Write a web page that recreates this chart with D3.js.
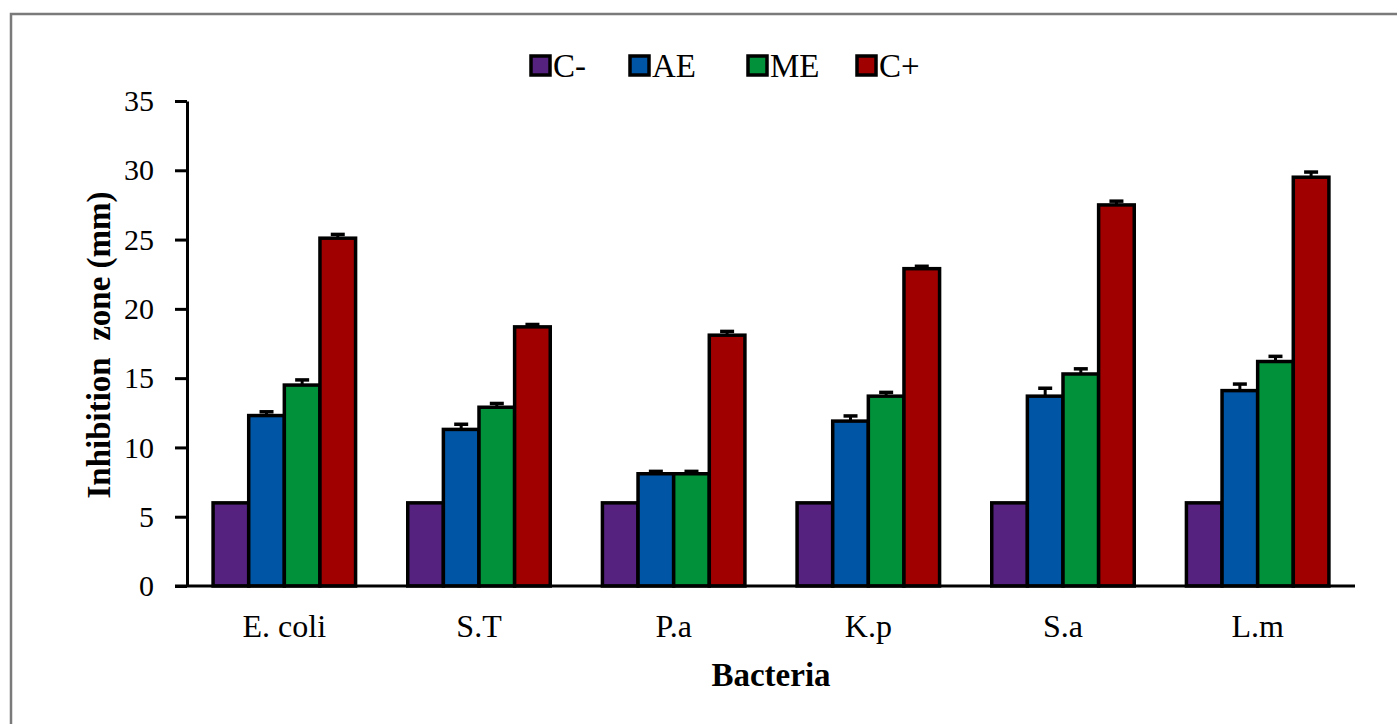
<!DOCTYPE html>
<html>
<head>
<meta charset="utf-8">
<script src="https://cdn.jsdelivr.net/npm/d3@7"></script>
<style>
  body { margin: 0; background: #fff; }
  text { font-family: "Liberation Serif", "Times New Roman", serif; fill: #000; }
</style>
</head>
<body>
<div id="chart"></div>
<script>
const categories = ['E. coli', 'S.T', 'P.a', 'K.p', 'S.a', 'L.m'];
const seriesNames = ['C-', 'AE', 'ME', 'C+'];
const seriesColors = ['#562280', '#0055A5', '#00913A', '#A00000'];
// mean inhibition zone per series, one value per category
const valuesCm = [6, 6, 6, 6, 6, 6];
const valuesAE = [12.3, 11.3, 8.1, 11.9, 13.7, 14.1];
const valuesME = [14.5, 12.9, 8.1, 13.7, 15.3, 16.2];
const valuesCp = [25.1, 18.7, 18.1, 22.9, 27.5, 29.5];
// error (sd)
const errCm = [0, 0, 0, 0, 0, 0];
const errAE = [0.2, 0.3, 0.1, 0.3, 0.5, 0.4];
const errME = [0.3, 0.2, 0.1, 0.2, 0.3, 0.3];
const errCp = [0.2, 0.1, 0.2, 0.1, 0.2, 0.3];
const yTicks = [0, 5, 10, 15, 20, 25, 30, 35];

const allValues = [valuesCm, valuesAE, valuesME, valuesCp];
const allErr = [errCm, errAE, errME, errCp];

const width = 1397, height = 724;
const margin = { top: 101, right: 42, bottom: 138, left: 187 };

const svg = d3.select('#chart').append('svg')
    .attr('width', width)
    .attr('height', height);

// outer frame (cut off at right / bottom like the source)
svg.append('rect')
    .attr('x', 11).attr('y', 14)
    .attr('width', width + 20).attr('height', height + 20)
    .attr('fill', 'none')
    .attr('stroke', '#7a7a7a')
    .attr('stroke-width', 2.5);

const x0 = d3.scaleBand()
    .domain(categories)
    .range([margin.left, width - margin.right]);

const groupW = x0.bandwidth() * 0.732;
const x1 = d3.scaleBand()
    .domain(seriesNames)
    .range([0, groupW]);

const y = d3.scaleLinear()
    .domain([0, 35])
    .range([height - margin.bottom, margin.top]);

const data = [];
categories.forEach((c, i) => {
    seriesNames.forEach((s, j) => {
        data.push({ cat: c, series: s, value: allValues[j][i], err: allErr[j][i], colour: seriesColors[j] });
    });
});

const groupOffset = (x0.bandwidth() - groupW) / 2;

// error bars (upper only), drawn under the bar outline
const errG = svg.selectAll('g.err')
    .data(data.filter(d => d.err > 0))
    .enter()
    .append('g')
    .attr('class', 'err');

errG.append('line')
    .attr('x1', d => x0(d.cat) + groupOffset + x1(d.series) + x1.bandwidth() / 2)
    .attr('x2', d => x0(d.cat) + groupOffset + x1(d.series) + x1.bandwidth() / 2)
    .attr('y1', d => y(d.value))
    .attr('y2', d => y(d.value + d.err) - 1)
    .style('stroke', '#000')
    .style('stroke-width', 3);

errG.append('line')
    .attr('x1', d => x0(d.cat) + groupOffset + x1(d.series) + x1.bandwidth() / 2 - 7)
    .attr('x2', d => x0(d.cat) + groupOffset + x1(d.series) + x1.bandwidth() / 2 + 7)
    .attr('y1', d => y(d.value + d.err) - 1)
    .attr('y2', d => y(d.value + d.err) - 1)
    .style('stroke', '#000')
    .style('stroke-width', 3.5);

svg.selectAll('rect.bar')
    .data(data)
    .enter()
    .append('rect')
    .attr('class', 'bar')
    .attr('x', d => x0(d.cat) + groupOffset + x1(d.series))
    .attr('y', d => y(d.value))
    .attr('width', x1.bandwidth())
    .attr('height', d => y(0) - y(d.value))
    .style('fill', d => d.colour)
    .style('stroke', '#000')
    .style('stroke-width', 3.5);

// y axis
const yAxis = d3.axisLeft(y)
    .tickValues(yTicks)
    .tickSize(12)
    .tickPadding(21)
    .tickSizeOuter(0);

const gy = svg.append('g')
    .attr('transform', `translate(${margin.left},0)`)
    .call(yAxis);
gy.select('.domain').style('stroke', '#000').style('stroke-width', 3);
gy.selectAll('.tick line').style('stroke', '#000').style('stroke-width', 3);
gy.selectAll('.tick text')
    .style('font-family', '"Liberation Serif", serif')
    .style('font-size', '30px');

// x axis
const xAxis = d3.axisBottom(x0)
    .tickSize(0)
    .tickPadding(28)
    .tickSizeOuter(0);

const gx = svg.append('g')
    .attr('transform', `translate(0,${y(0)})`)
    .call(xAxis);
gx.select('.domain').style('stroke', '#000').style('stroke-width', 3)
    .attr('d', `M${margin.left - 12},0H${width - margin.right}`);
gx.selectAll('.tick text')
    .style('font-family', '"Liberation Serif", serif')
    .style('font-size', '32px');

// axis titles
svg.append('text')
    .attr('x', (margin.left + width - margin.right) / 2)
    .attr('y', 686)
    .attr('text-anchor', 'middle')
    .style('font-size', '33px')
    .style('font-weight', 'bold')
    .text('Bacteria');

svg.append('text')
    .attr('transform', `translate(110,345) rotate(-90)`)
    .attr('text-anchor', 'middle')
    .attr('xml:space', 'preserve')
    .style('font-size', '33px')
    .style('font-weight', 'bold')
    .text('Inhibition  zone (mm)');

// legend
const legendX = [531, 630, 748, 857];
const legend = svg.selectAll('g.legend')
    .data(seriesNames)
    .enter()
    .append('g')
    .attr('class', 'legend')
    .attr('transform', (d, i) => `translate(${legendX[i]},56)`);

legend.append('rect')
    .attr('width', 19)
    .attr('height', 19)
    .style('fill', (d, i) => seriesColors[i])
    .style('stroke', '#000')
    .style('stroke-width', 3.5);

legend.append('text')
    .attr('x', 22)
    .attr('y', 21)
    .style('font-size', '33px')
    .text(d => d);
</script>
</body>
</html>
